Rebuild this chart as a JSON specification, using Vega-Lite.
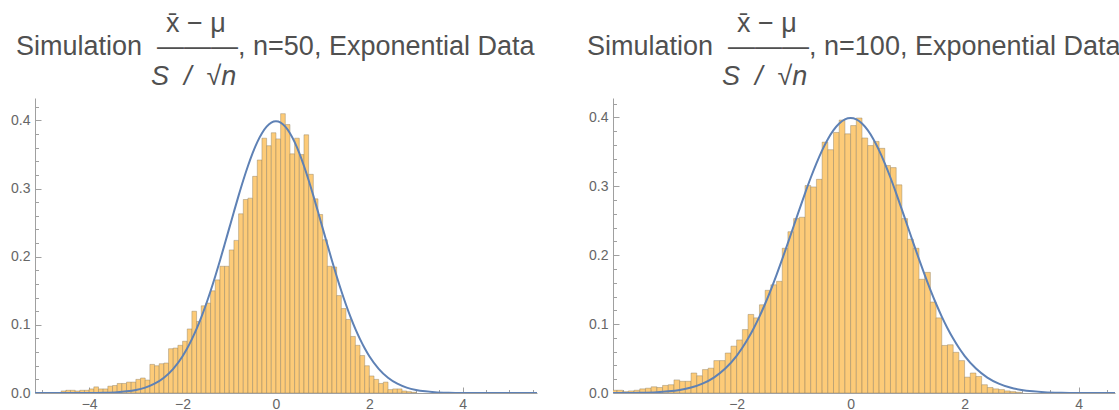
{
  "$schema": "https://vega.github.io/schema/vega-lite/v6.json",
  "background": "white",
  "padding": {"left": 10, "top": 9, "right": 0, "bottom": 0},
  "config": {
    "view": {"stroke": null},
    "font": "Liberation Sans",
    "concat": {"spacing": 50},
    "axis": {
      "grid": false,
      "title": null,
      "domainColor": "#a0a0a0",
      "tickColor": "#a0a0a0",
      "labelColor": "#666666",
      "labelFont": "Liberation Sans",
      "labelFontSize": 14,
      "labelOverlap": false
    },
    "title": {
      "font": "Liberation Sans",
      "fontSize": 27,
      "fontWeight": "normal",
      "color": "#505050",
      "anchor": "start",
      "align": "left",
      "frame": "group",
      "subtitleFont": "Liberation Sans",
      "subtitleFontSize": 27,
      "subtitleFontStyle": "italic",
      "subtitleColor": "#505050"
    }
  },
  "datasets": {
    "normal": [
      {"x": -5.2, "y": 0}, {"x": -4.5, "y": 0.000016}, {"x": -4.0, "y": 0.0001}, {"x": -3.7, "y": 0.0004},
      {"x": -3.4, "y": 0.0012}, {"x": -3.2, "y": 0.0024}, {"x": -3.0, "y": 0.0044}, {"x": -2.8, "y": 0.0079},
      {"x": -2.6, "y": 0.0136}, {"x": -2.4, "y": 0.0224}, {"x": -2.2, "y": 0.0355}, {"x": -2.0, "y": 0.054},
      {"x": -1.9, "y": 0.0656}, {"x": -1.8, "y": 0.079}, {"x": -1.7, "y": 0.094}, {"x": -1.6, "y": 0.1109},
      {"x": -1.5, "y": 0.1295}, {"x": -1.4, "y": 0.1497}, {"x": -1.3, "y": 0.1714}, {"x": -1.2, "y": 0.1942},
      {"x": -1.1, "y": 0.2179}, {"x": -1.0, "y": 0.242}, {"x": -0.9, "y": 0.2661}, {"x": -0.8, "y": 0.2897},
      {"x": -0.7, "y": 0.3123}, {"x": -0.6, "y": 0.3332}, {"x": -0.5, "y": 0.3521}, {"x": -0.4, "y": 0.3683},
      {"x": -0.3, "y": 0.3814}, {"x": -0.2, "y": 0.391}, {"x": -0.1, "y": 0.397}, {"x": 0, "y": 0.3989},
      {"x": 0.1, "y": 0.397}, {"x": 0.2, "y": 0.391}, {"x": 0.3, "y": 0.3814}, {"x": 0.4, "y": 0.3683},
      {"x": 0.5, "y": 0.3521}, {"x": 0.6, "y": 0.3332}, {"x": 0.7, "y": 0.3123}, {"x": 0.8, "y": 0.2897},
      {"x": 0.9, "y": 0.2661}, {"x": 1.0, "y": 0.242}, {"x": 1.1, "y": 0.2179}, {"x": 1.2, "y": 0.1942},
      {"x": 1.3, "y": 0.1714}, {"x": 1.4, "y": 0.1497}, {"x": 1.5, "y": 0.1295}, {"x": 1.6, "y": 0.1109},
      {"x": 1.7, "y": 0.094}, {"x": 1.8, "y": 0.079}, {"x": 1.9, "y": 0.0656}, {"x": 2.0, "y": 0.054},
      {"x": 2.2, "y": 0.0355}, {"x": 2.4, "y": 0.0224}, {"x": 2.6, "y": 0.0136}, {"x": 2.8, "y": 0.0079},
      {"x": 3.0, "y": 0.0044}, {"x": 3.2, "y": 0.0024}, {"x": 3.4, "y": 0.0012}, {"x": 3.7, "y": 0.0004},
      {"x": 4.0, "y": 0.0001}, {"x": 4.5, "y": 0.000016}, {"x": 5.0, "y": 0}, {"x": 5.6, "y": 0}
    ],
    "n50": [
      {"a": -4.6, "b": -4.5, "d": 0.003}, {"a": -4.5, "b": -4.4, "d": 0.004}, {"a": -4.4, "b": -4.3, "d": 0.004},
      {"a": -4.3, "b": -4.2, "d": 0.003}, {"a": -4.2, "b": -4.1, "d": 0.004}, {"a": -4.1, "b": -4.0, "d": 0.004},
      {"a": -4.0, "b": -3.9, "d": 0.006}, {"a": -3.9, "b": -3.8, "d": 0.009}, {"a": -3.8, "b": -3.7, "d": 0.006},
      {"a": -3.7, "b": -3.6, "d": 0.006}, {"a": -3.6, "b": -3.5, "d": 0.010}, {"a": -3.5, "b": -3.4, "d": 0.011},
      {"a": -3.4, "b": -3.3, "d": 0.014}, {"a": -3.3, "b": -3.2, "d": 0.014}, {"a": -3.2, "b": -3.1, "d": 0.016},
      {"a": -3.1, "b": -3.0, "d": 0.016}, {"a": -3.0, "b": -2.9, "d": 0.020}, {"a": -2.9, "b": -2.8, "d": 0.022},
      {"a": -2.8, "b": -2.7, "d": 0.019}, {"a": -2.7, "b": -2.6, "d": 0.042}, {"a": -2.6, "b": -2.5, "d": 0.040},
      {"a": -2.5, "b": -2.4, "d": 0.043}, {"a": -2.4, "b": -2.3, "d": 0.044}, {"a": -2.3, "b": -2.2, "d": 0.065},
      {"a": -2.2, "b": -2.1, "d": 0.066}, {"a": -2.1, "b": -2.0, "d": 0.070}, {"a": -2.0, "b": -1.9, "d": 0.076},
      {"a": -1.9, "b": -1.8, "d": 0.094}, {"a": -1.8, "b": -1.7, "d": 0.120}, {"a": -1.7, "b": -1.6, "d": 0.105},
      {"a": -1.6, "b": -1.5, "d": 0.128}, {"a": -1.5, "b": -1.4, "d": 0.132}, {"a": -1.4, "b": -1.3, "d": 0.150},
      {"a": -1.3, "b": -1.2, "d": 0.166}, {"a": -1.2, "b": -1.1, "d": 0.186}, {"a": -1.1, "b": -1.0, "d": 0.186},
      {"a": -1.0, "b": -0.9, "d": 0.210}, {"a": -0.9, "b": -0.8, "d": 0.224}, {"a": -0.8, "b": -0.7, "d": 0.263},
      {"a": -0.7, "b": -0.6, "d": 0.284}, {"a": -0.6, "b": -0.5, "d": 0.286}, {"a": -0.5, "b": -0.4, "d": 0.318},
      {"a": -0.4, "b": -0.3, "d": 0.342}, {"a": -0.3, "b": -0.2, "d": 0.374}, {"a": -0.2, "b": -0.1, "d": 0.363},
      {"a": -0.1, "b": 0.0, "d": 0.382}, {"a": 0.0, "b": 0.1, "d": 0.373}, {"a": 0.1, "b": 0.2, "d": 0.410},
      {"a": 0.2, "b": 0.3, "d": 0.394}, {"a": 0.3, "b": 0.4, "d": 0.351}, {"a": 0.4, "b": 0.5, "d": 0.374},
      {"a": 0.5, "b": 0.6, "d": 0.350}, {"a": 0.6, "b": 0.7, "d": 0.379}, {"a": 0.7, "b": 0.8, "d": 0.321},
      {"a": 0.8, "b": 0.9, "d": 0.285}, {"a": 0.9, "b": 1.0, "d": 0.262}, {"a": 1.0, "b": 1.1, "d": 0.225},
      {"a": 1.1, "b": 1.2, "d": 0.186}, {"a": 1.2, "b": 1.3, "d": 0.185}, {"a": 1.3, "b": 1.4, "d": 0.143},
      {"a": 1.4, "b": 1.5, "d": 0.124}, {"a": 1.5, "b": 1.6, "d": 0.108}, {"a": 1.6, "b": 1.7, "d": 0.083},
      {"a": 1.7, "b": 1.8, "d": 0.070}, {"a": 1.8, "b": 1.9, "d": 0.055}, {"a": 1.9, "b": 2.0, "d": 0.040},
      {"a": 2.0, "b": 2.1, "d": 0.025}, {"a": 2.1, "b": 2.2, "d": 0.020}, {"a": 2.2, "b": 2.3, "d": 0.014},
      {"a": 2.3, "b": 2.4, "d": 0.016}, {"a": 2.4, "b": 2.5, "d": 0.005}, {"a": 2.5, "b": 2.6, "d": 0.006},
      {"a": 2.6, "b": 2.7, "d": 0.006}, {"a": 2.7, "b": 2.8, "d": 0.003}, {"a": 2.8, "b": 2.9, "d": 0.002},
      {"a": 2.9, "b": 3.0, "d": 0.001}
    ],
    "n100": [
      {"a": -4.2, "b": -4.1, "d": 0.004}, {"a": -4.1, "b": -4.0, "d": 0.004}, {"a": -4.0, "b": -3.9, "d": 0.002},
      {"a": -3.9, "b": -3.8, "d": 0.003}, {"a": -3.8, "b": -3.7, "d": 0.004}, {"a": -3.7, "b": -3.6, "d": 0.006},
      {"a": -3.6, "b": -3.5, "d": 0.007}, {"a": -3.5, "b": -3.4, "d": 0.009}, {"a": -3.4, "b": -3.3, "d": 0.008},
      {"a": -3.3, "b": -3.2, "d": 0.011}, {"a": -3.2, "b": -3.1, "d": 0.012}, {"a": -3.1, "b": -3.0, "d": 0.019},
      {"a": -3.0, "b": -2.9, "d": 0.017}, {"a": -2.9, "b": -2.8, "d": 0.017}, {"a": -2.8, "b": -2.7, "d": 0.029},
      {"a": -2.7, "b": -2.6, "d": 0.025}, {"a": -2.6, "b": -2.5, "d": 0.034}, {"a": -2.5, "b": -2.4, "d": 0.036},
      {"a": -2.4, "b": -2.3, "d": 0.047}, {"a": -2.3, "b": -2.2, "d": 0.047}, {"a": -2.2, "b": -2.1, "d": 0.058},
      {"a": -2.1, "b": -2.0, "d": 0.068}, {"a": -2.0, "b": -1.9, "d": 0.077}, {"a": -1.9, "b": -1.8, "d": 0.092},
      {"a": -1.8, "b": -1.7, "d": 0.114}, {"a": -1.7, "b": -1.6, "d": 0.109}, {"a": -1.6, "b": -1.5, "d": 0.128},
      {"a": -1.5, "b": -1.4, "d": 0.149}, {"a": -1.4, "b": -1.3, "d": 0.157}, {"a": -1.3, "b": -1.2, "d": 0.162},
      {"a": -1.2, "b": -1.1, "d": 0.210}, {"a": -1.1, "b": -1.0, "d": 0.234}, {"a": -1.0, "b": -0.9, "d": 0.253},
      {"a": -0.9, "b": -0.8, "d": 0.255}, {"a": -0.8, "b": -0.7, "d": 0.301}, {"a": -0.7, "b": -0.6, "d": 0.299},
      {"a": -0.6, "b": -0.5, "d": 0.310}, {"a": -0.5, "b": -0.4, "d": 0.364}, {"a": -0.4, "b": -0.3, "d": 0.353},
      {"a": -0.3, "b": -0.2, "d": 0.378}, {"a": -0.2, "b": -0.1, "d": 0.396}, {"a": -0.1, "b": 0.0, "d": 0.376},
      {"a": 0.0, "b": 0.1, "d": 0.388}, {"a": 0.1, "b": 0.2, "d": 0.399}, {"a": 0.2, "b": 0.3, "d": 0.370},
      {"a": 0.3, "b": 0.4, "d": 0.359}, {"a": 0.4, "b": 0.5, "d": 0.365}, {"a": 0.5, "b": 0.6, "d": 0.355},
      {"a": 0.6, "b": 0.7, "d": 0.330}, {"a": 0.7, "b": 0.8, "d": 0.327}, {"a": 0.8, "b": 0.9, "d": 0.302},
      {"a": 0.9, "b": 1.0, "d": 0.253}, {"a": 1.0, "b": 1.1, "d": 0.223}, {"a": 1.1, "b": 1.2, "d": 0.210},
      {"a": 1.2, "b": 1.3, "d": 0.165}, {"a": 1.3, "b": 1.4, "d": 0.175}, {"a": 1.4, "b": 1.5, "d": 0.132},
      {"a": 1.5, "b": 1.6, "d": 0.109}, {"a": 1.6, "b": 1.7, "d": 0.069}, {"a": 1.7, "b": 1.8, "d": 0.070},
      {"a": 1.8, "b": 1.9, "d": 0.059}, {"a": 1.9, "b": 2.0, "d": 0.047}, {"a": 2.0, "b": 2.1, "d": 0.023},
      {"a": 2.1, "b": 2.2, "d": 0.029}, {"a": 2.2, "b": 2.3, "d": 0.024}, {"a": 2.3, "b": 2.4, "d": 0.012},
      {"a": 2.4, "b": 2.5, "d": 0.008}, {"a": 2.5, "b": 2.6, "d": 0.006}, {"a": 2.6, "b": 2.7, "d": 0.005},
      {"a": 2.7, "b": 2.8, "d": 0.003}, {"a": 2.8, "b": 2.9, "d": 0.002}, {"a": 2.9, "b": 3.0, "d": 0.001}
    ]
  },
  "hconcat": [
    {
      "width": 502,
      "height": 295,
      "title": {
        "text": ["\u200b\u00a0\u00a0\u00a0\u00a0\u00a0\u00a0\u00a0\u00a0\u00a0\u00a0\u00a0\u00a0\u00a0\u00a0\u00a0\u00a0\u00a0\u00a0\u00a0\u00a0x\u0304 \u2212 \u03bc", "Simulation\u00a0\u00a0\u2014\u2014\u2014, n=50, Exponential Data"],
        "subtitle": "\u200b\u00a0\u00a0\u00a0\u00a0\u00a0\u00a0\u00a0\u00a0\u00a0\u00a0\u00a0\u00a0\u00a0\u00a0\u00a0\u00a0\u00a0\u00a0S\u00a0\u00a0/\u00a0\u00a0\u221an",
        "lineHeight": 23.5,
        "subtitleLineHeight": 27,
        "dx": -19,
        "offset": 7,
        "subtitlePadding": 3
      },
      "resolve": {"axis": {"x": "independent", "y": "independent"}},
      "layer": [
        {
          "data": {"name": "n50"},
          "mark": {"type": "rect", "fill": "#fdcb78", "stroke": "#8a7a5e", "strokeWidth": 0.6, "strokeOpacity": 0.7, "clip": true},
          "encoding": {
            "x": {
              "field": "a", "type": "quantitative",
              "scale": {"domain": [-5.16, 5.59], "nice": false, "zero": false},
              "axis": {"orient": "bottom", "values": [-4, -2, 0, 2, 4], "format": "d", "tickSize": -6, "labelPadding": 10, "labelOverlap": false, "labelFontSize": 14}
            },
            "x2": {"field": "b"},
            "y": {
              "field": "d", "type": "quantitative",
              "scale": {"domain": [0, 0.433], "nice": false},
              "axis": {"orient": "left", "values": [0, 0.1, 0.2, 0.3, 0.4], "format": ".1f", "tickSize": -6, "labelPadding": 11, "labelOverlap": false, "labelFontSize": 14}
            },
            "y2": {"datum": 0}
          }
        },
        {
          "data": {"name": "normal"},
          "mark": {"type": "line", "color": "#5e81b5", "strokeWidth": 2, "interpolate": "monotone", "clip": true},
          "encoding": {
            "x": {
              "field": "x", "type": "quantitative",
              "axis": {"orient": "bottom", "values": [-5, -4.5, -3.5, -3, -2.5, -1.5, -1, -0.5, 0.5, 1, 1.5, 2.5, 3, 3.5, 4.5, 5, 5.5], "labels": false, "domain": false, "tickSize": -3.5}
            },
            "y": {
              "field": "y", "type": "quantitative",
              "axis": {"orient": "left", "values": [0.02, 0.04, 0.06, 0.08, 0.12, 0.14, 0.16, 0.18, 0.22, 0.24, 0.26, 0.28, 0.32, 0.34, 0.36, 0.38, 0.42], "labels": false, "domain": false, "tickSize": -3.5}
            }
          }
        }
      ]
    },
    {
      "width": 502,
      "height": 295,
      "title": {
        "text": ["\u200b\u00a0\u00a0\u00a0\u00a0\u00a0\u00a0\u00a0\u00a0\u00a0\u00a0\u00a0\u00a0\u00a0\u00a0\u00a0\u00a0\u00a0\u00a0\u00a0\u00a0x\u0304 \u2212 \u03bc", "Simulation\u00a0\u00a0\u2014\u2014\u2014, n=100, Exponential Data"],
        "subtitle": "\u200b\u00a0\u00a0\u00a0\u00a0\u00a0\u00a0\u00a0\u00a0\u00a0\u00a0\u00a0\u00a0\u00a0\u00a0\u00a0\u00a0\u00a0\u00a0S\u00a0\u00a0/\u00a0\u00a0\u221an",
        "lineHeight": 23.5,
        "subtitleLineHeight": 27,
        "dx": -26,
        "offset": 7,
        "subtitlePadding": 3
      },
      "resolve": {"axis": {"x": "independent", "y": "independent"}},
      "layer": [
        {
          "data": {"name": "n100"},
          "mark": {"type": "rect", "fill": "#fdcb78", "stroke": "#8a7a5e", "strokeWidth": 0.6, "strokeOpacity": 0.7, "clip": true},
          "encoding": {
            "x": {
              "field": "a", "type": "quantitative",
              "scale": {"domain": [-4.17, 4.64], "nice": false, "zero": false},
              "axis": {"orient": "bottom", "values": [-2, 0, 2, 4], "format": "d", "tickSize": -6, "labelPadding": 10, "labelOverlap": false, "labelFontSize": 14}
            },
            "x2": {"field": "b"},
            "y": {
              "field": "d", "type": "quantitative",
              "scale": {"domain": [0, 0.428], "nice": false},
              "axis": {"orient": "left", "values": [0, 0.1, 0.2, 0.3, 0.4], "format": ".1f", "tickSize": -6, "labelPadding": 11, "labelOverlap": false, "labelFontSize": 14}
            },
            "y2": {"datum": 0}
          }
        },
        {
          "data": {"name": "normal"},
          "mark": {"type": "line", "color": "#5e81b5", "strokeWidth": 2, "interpolate": "monotone", "clip": true},
          "encoding": {
            "x": {
              "field": "x", "type": "quantitative",
              "axis": {"orient": "bottom", "values": [-4, -3.5, -3, -2.5, -1.5, -1, -0.5, 0.5, 1, 1.5, 2.5, 3, 3.5, 4.5], "labels": false, "domain": false, "tickSize": -3.5}
            },
            "y": {
              "field": "y", "type": "quantitative",
              "axis": {"orient": "left", "values": [0.02, 0.04, 0.06, 0.08, 0.12, 0.14, 0.16, 0.18, 0.22, 0.24, 0.26, 0.28, 0.32, 0.34, 0.36, 0.38, 0.42], "labels": false, "domain": false, "tickSize": -3.5}
            }
          }
        }
      ]
    }
  ]
}
